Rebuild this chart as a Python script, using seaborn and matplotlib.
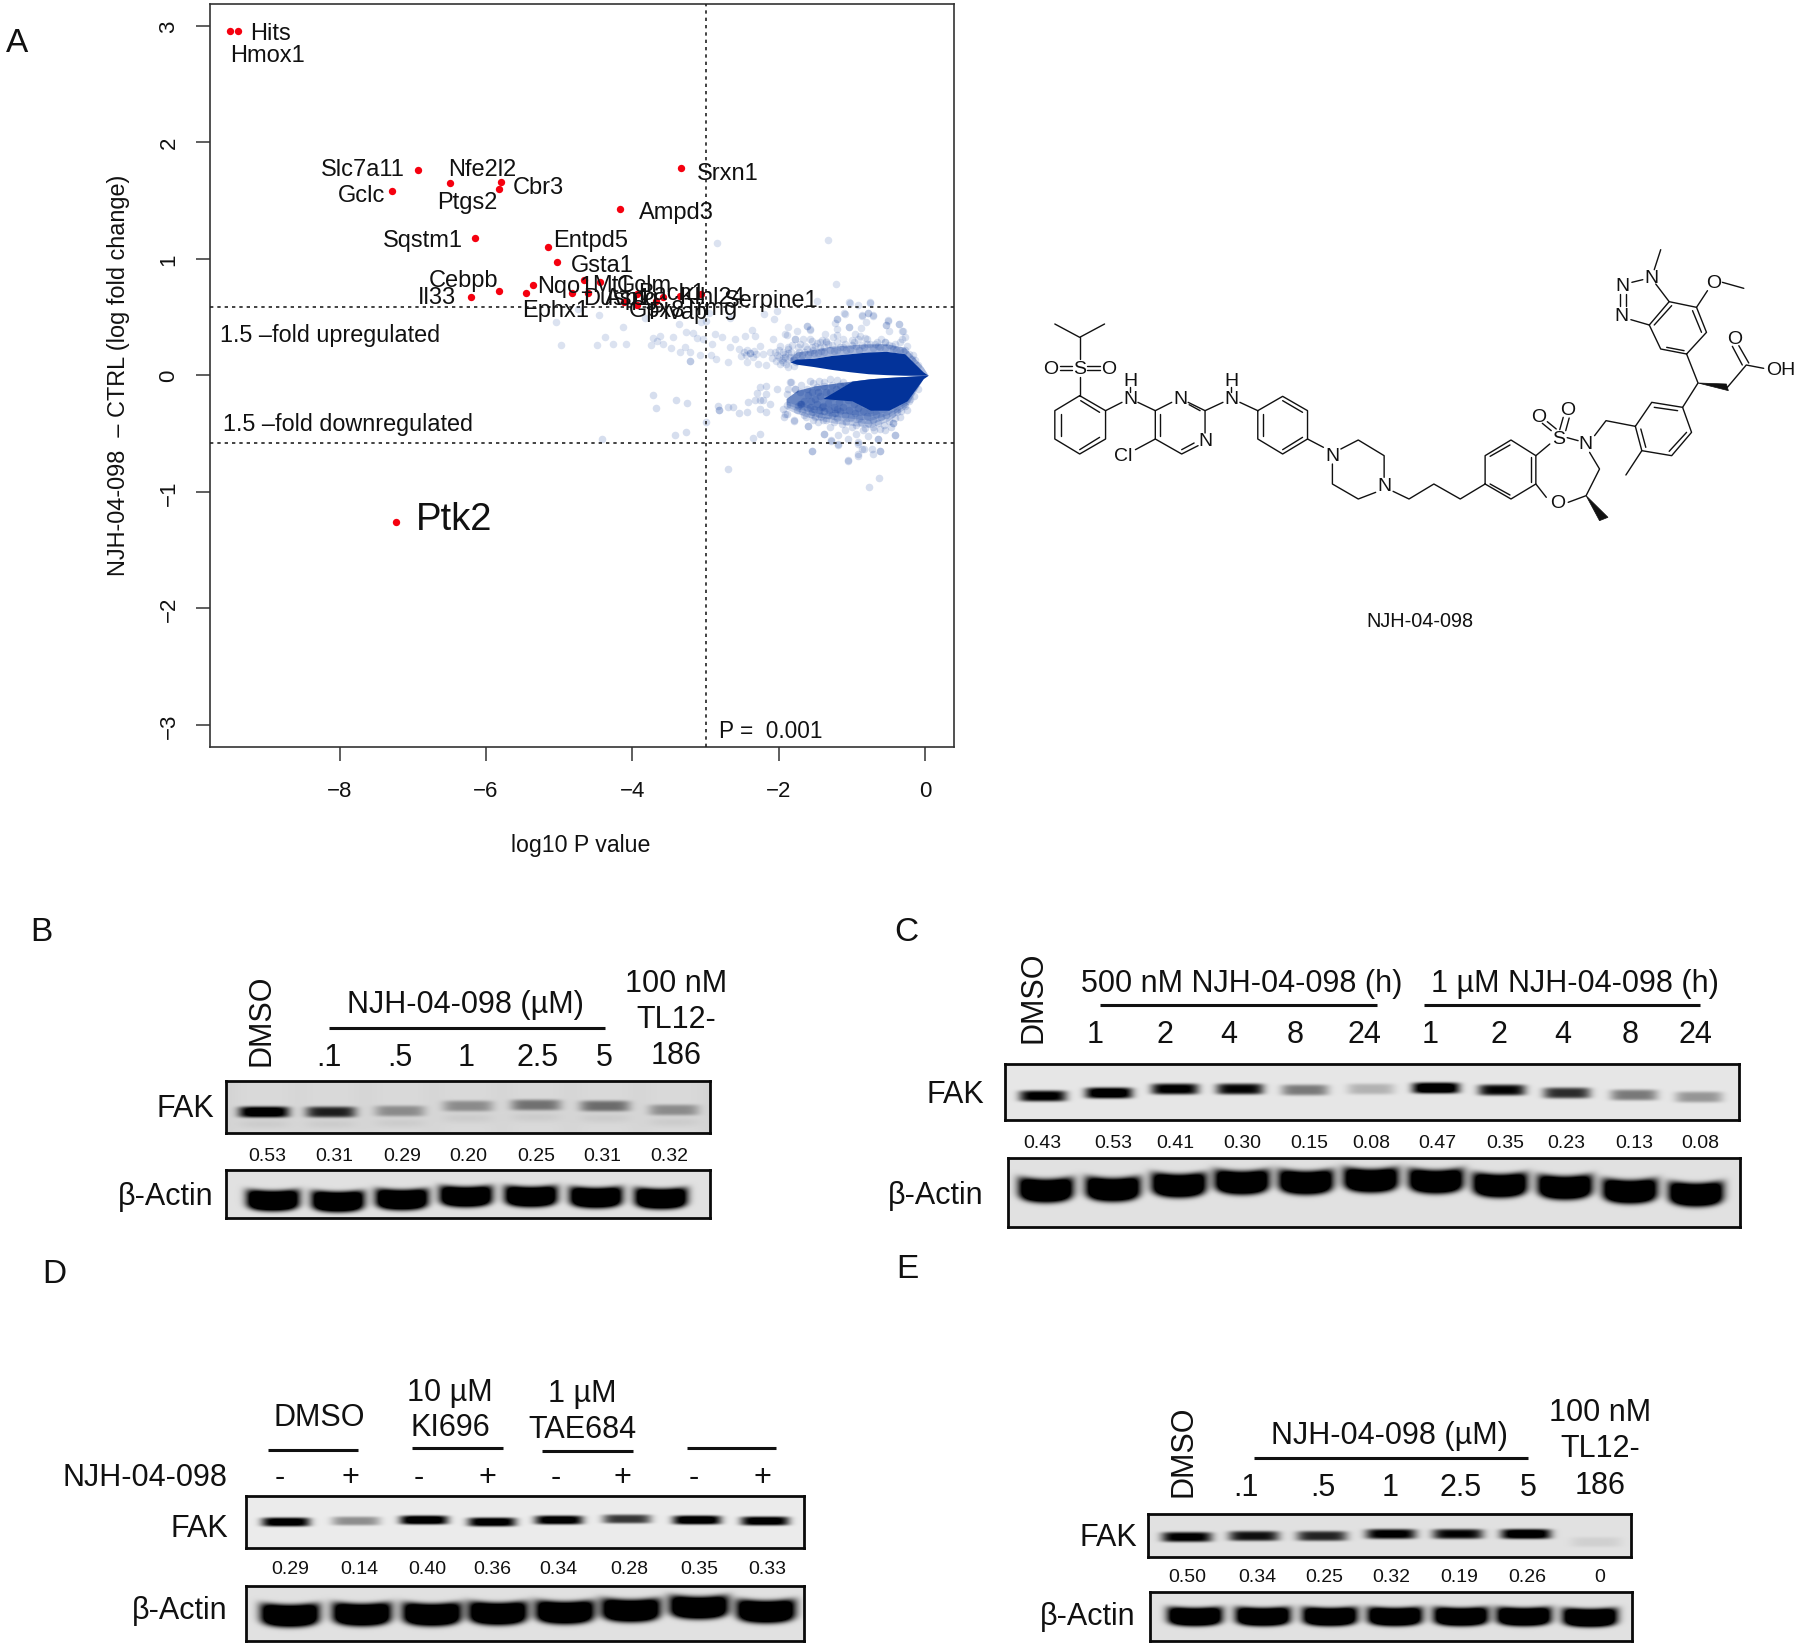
import numpy as np
import pandas as pd
import matplotlib
matplotlib.use("Agg")
import matplotlib.pyplot as plt
import seaborn as sns

sns.set_style("white")
plt.rcParams['font.family'] = ['Liberation Sans', 'DejaVu Sans']

W, H = 1800, 1649
BLUE = "#03339a"
INK = "#111111"

# --- panel A values (log10 P, log fold change)
hit_x = [-9.50, -9.39, -6.93, -6.49, -7.28, -5.79, -5.82, -3.33, -4.17, -6.15, -5.15, -5.03, -5.82, -6.21, -5.36,
         -5.45, -4.66, -4.44, -4.83, -4.61, -3.94, -4.12, -3.94, -3.68, -3.58, -3.07, -3.35, -7.23]
hit_y = [2.95, 2.95, 1.76, 1.65, 1.58, 1.66, 1.60, 1.78, 1.43, 1.18, 1.10, 0.97, 0.72, 0.67, 0.775,
         0.71, 0.82, 0.80, 0.71, 0.71, 0.70, 0.63, 0.60, 0.64, 0.675, 0.70, 0.68, -1.26]

upper_pts = [(-2.84,1.135),(-1.325,1.163),(-1.22,.783),(-1.485,.64),(-1.04,.626),(-.756,.626),(-2.03,.554),(-2.06,.483),
    (-2.2,.523),(-2.67,.49),(-2.95,.534),(-2.99,.468),(-3.06,.454),(-3.37,.44),(-3.83,.49),(-4.13,.417),(-4.46,.52),
    (-4.74,.569),(-5.05,.46),(-4.98,.26),(-4.37,.326),(-4.49,.263),(-4.26,.265),(-4.09,.265),(-3.72,.32),(-3.62,.34),
    (-3.74,.26),(-3.66,.297),(-3.58,.269),(-3.45,.332),(-3.47,.231),(-3.35,.197),(-3.27,.369),(-3.17,.363),(-3.12,.317),
    (-3.28,.24),(-3.21,.197),(-3.22,.125),(-3.22,.125),(-3.08,.177),(-3.04,.312),(-2.92,.269),(-2.87,.354),(-2.78,.326),
    (-2.93,.174),(-2.86,.14),(-2.70,.111),(-2.67,.24),(-2.6,.312),(-2.54,.226),(-2.46,.34),(-2.37,.392),(-2.33,.334),
    (-2.52,.163),(-2.44,.117),(-2.4,.191),(-2.4,.191),(-2.31,.183),(-2.26,.254),(-2.21,.183),(-2.28,.097),(-2.17,.088),
    (-2.08,.312),(-2.05,.197),(-1.92,.354),(-1.87,.24),(-1.92,.154),(-1.8,.083),(-1.78,.312),(-1.62,.42),(-1.57,.392),
    (-1.67,.312),(-1.55,.297),(-1.21,.483),(-1.21,.397),(-1.10,.526),(-1.04,.412),(-.87,.506),(-.78,.535),(-.72,.512),
    (-.505,.469),(-.53,.432),(-.36,.437),(-.31,.383),(-.28,.326),(-.35,.283),(-.89,.34),(-.8,.312),(-.98,.283),(-1.26,.326),
    (-1.44,.283),(-1.35,.297),(-1.12,.312),(-.665,.283),(-.55,.283),(-1.03,.624),(-.915,.607),(-.756,.624),(-1.11,.538),
    (-.87,.515),(-.78,.538),(-.71,.515),(-.81,.458),(-1.21,.48),(-1.23,.452),(-1.04,.415),(-.88,.406),(-.515,.472),
    (-.36,.443),(-.537,.429),(-.49,.38),(-.314,.38),(-.32,.315),(-.414,.272),(-.278,.215),(-.164,.172),(-1.87,.415),
    (-1.62,.423),(-1.57,.395),(-1.75,.378),(-1.89,.343),(-1.78,.309),(-1.575,.309),(-1.37,.358),(-1.21,.349),(-1.416,.3),
    (-1.35,.286),(-1.21,.286),(-1.44,.243),(-1.28,.258),(-1.006,.3),(-.915,.315),(-.824,.32),(-.96,.358),(-.69,.272),
    (-.55,.286),(-.87,.258),(-.756,.272),(-1.12,.243),(-1.03,.229),(-1.62,.229),(-1.735,.243),(-1.87,.229),(-1.92,.186),
    (-1.8,.129),(-1.94,.114),(-1.87,.07),(-1.53,.215),(-1.39,.2),(-1.21,.215),(-.437,.229),(-1.88,.19),(-1.85,.16),
    (-1.95,.15),(-1.75,.18),(-1.7,.14),(-1.66,.2),(-1.6,.17),(-1.5,.25),(-1.46,.19),(-1.3,.22),(-1.1,.27),(-.95,.25),
    (-.8,.27),(-.65,.25),(-.5,.26),(-.4,.22),(-.25,.25),(-.6,.31),(-1.98,.1),(-2.0,.16),
    (-2.47,.2),(-2.45,.17),(-2.43,.22),(-2.36,.16),(-2.34,.21),(-2.12,.2),(-2.1,.15),(-2.04,.12),(-2.02,.17),(-2.0,.22),
    (-1.98,.25),(-1.96,.13),(-1.94,.2),(-1.9,.1),(-1.86,.13),(-1.84,.2),(-1.82,.26),(-1.79,.16),(-1.76,.11),(-1.73,.2),
    (-1.71,.27),(-1.68,.17),(-1.64,.25),(-1.58,.2),(-1.55,.24),(-1.52,.19),(-1.48,.28),(-1.42,.21),(-1.38,.24),(-1.33,.27),
    (-1.25,.21),(-1.17,.24),(-1.08,.22),(-1.0,.26),(-.9,.22),(-.84,.24),(-.72,.23),(-.62,.24),(-.55,.23),(-.46,.25),(-.35,.22),
    (-.3,.2),(-.22,.18),(-.18,.14),(-.14,.13),(-.1,.09)]
lower_pts = [(-3.72,-.166),(-3.68,-.284),(-3.40,-.212),(-3.25,-.238),(-3.42,-.513),(-3.27,-.49),(-4.41,-.547),(-3,-.4),
    (-2.83,-.261),(-2.82,-.298),(-2.82,-.298),(-2.7,-.27),(-2.63,-.275),(-2.54,-.324),(-2.44,-.312),(-2.42,-.233),(-2.33,-.213),
    (-2.26,-.209),(-2.21,-.209),(-2.26,-.104),(-2.18,-.09),(-2.3,-.152),(-2.17,-.161),(-2.12,-.246),(-2.26,-.29),(-2.18,-.318),
    (-2.02,-.118),(-2.35,-.539),(-2.26,-.504),(-2.7,-.805),(-1.55,-.653),(-1.06,-.733),(-.63,-.882),(-.765,-.962),(-1.94,-.29),
    (-1.89,-.333),(-1.8,-.39),(-1.93,-.361),(-1.85,-.061),(-1.78,-.118),(-1.89,-.161),(-1.71,-.246),(-1.6,-.432),(-1.39,-.503),
    (-1.29,-.56),(-1.19,-.59),(-.915,-.69),(-.87,-.633),(-.71,-.676),(-.62,-.647),(-.915,-.576),(-.65,-.547),(-.415,-.513),
    (-.437,-.41),(-1.55,-.652),(-1.06,-.73),(-.915,-.68),(-.84,-.635),(-.915,-.587),(-.733,-.63),(-.62,-.652),(-.414,-.51),
    (-.64,-.544),(-1.39,-.5),(-1.29,-.558),(-1.19,-.6),(-1.19,-.515),(-1.6,-.435),(-.437,-.406),(-.3,-.243),(-.21,-.2),
    (-.39,-.315),(-1.87,-.114),(-1.78,-.12),(-1.83,-.057),(-1.89,-.257),(-1.7,-.243),(-1.7,-.243),(-1.92,-.33),(-1.8,-.386),
    (-1.53,-.07),(-1.39,-.057),(-1.3,-.03),(-1.71,-.143),(-1.6,-.17),(-1.51,-.2),(-1.48,-.1),(-1.3,-.143),(-1.166,-.086),
    (-1.55,-.315),(-1.416,-.272),(-1.325,-.343),(-1.21,-.286),(-1.14,-.415),(-1.0,-.443),(-.847,-.472),(-.71,-.443),(-.62,-.458),
    (-1.46,-.4),(-1.3,-.443),(-1.53,-.386),(-1.75,-.3),(-1.65,-.34),(-1.62,-.28),(-1.45,-.33),(-1.4,-.38),(-1.25,-.4),
    (-1.1,-.47),(-.95,-.5),(-.78,-.52),(-.55,-.47),(-.47,-.44),(-.35,-.36),(-.25,-.3),(-.15,-.18),(-.1,-.12),(-1.05,-.55),
    (-1.7,-.08),(-1.58,-.05),(-1.45,-.05),(-1.2,-.04),
    (-1.74,-.26),(-1.68,-.31),(-1.66,-.22),(-1.63,-.36),(-1.58,-.27),(-1.56,-.33),(-1.56,-.22),(-1.52,-.29),(-1.5,-.36),(-1.48,-.25),
    (-1.45,-.3),(-1.44,-.18),(-1.42,-.35),(-1.4,-.26),(-1.38,-.31),(-1.36,-.14),(-1.35,-.38),(-1.33,-.24),(-1.31,-.3),(-1.28,-.34),
    (-1.27,-.19),(-1.25,-.27),(-1.23,-.32),(-1.22,-.12),(-1.2,-.37),(-1.18,-.23),(-1.16,-.31),(-1.14,-.16),(-1.12,-.27),(-1.1,-.34),
    (-1.08,-.4),(-1.06,-.21),(-1.04,-.3),(-1.02,-.36),(-1.0,-.14),(-.98,-.25),(-.96,-.32),(-.94,-.43),(-.92,-.28),(-.9,-.37),
    (-.88,-.4),(-.85,-.31),(-.83,-.45),(-.8,-.35),(-.78,-.41),(-.75,-.3),(-.72,-.38),(-.7,-.47),(-.67,-.33),(-.64,-.41),
    (-.6,-.36),(-.57,-.43),(-.53,-.34),(-.5,-.39),(-.45,-.33),(-.42,-.37),(-.38,-.29),(-.33,-.31),(-.28,-.26),(-.22,-.22),
    (-1.62,-.12),(-1.55,-.14),(-1.46,-.14),(-1.38,-.09),(-1.27,-.08),(-1.12,-.06),(-1.05,-.09)]

# dense part of the cloud: envelopes
top_x = [-1.85, -1.76, -1.53, -1.28, -1.03, -0.78, -0.53, -0.28, -0.03, 0.04]
top_outer = [0.115, 0.14, 0.145, 0.17, 0.185, 0.20, 0.205, 0.185, 0.03, 0.0]
top_inner = [0.115, 0.095, 0.075, 0.05, 0.03, 0.013, 0.005, 0.0, 0.0, 0.0]
halo_outer = [0.15, 0.2, 0.22, 0.25, 0.26, 0.27, 0.27, 0.24, 0.07, 0.0]
low_x = [-1.4, -1.0, -0.75, -0.5, -0.25, -0.03, 0.04]
low_inner = [-0.2, -0.05, -0.03, -0.018, -0.01, -0.002, 0.0]
low_outer = [-0.2, -0.22, -0.3, -0.3, -0.22, -0.03, 0.0]
haze_x = [-1.9, -1.75, -1.5, -1.25, -1.0, -0.75, -0.5, -0.25, -0.03]
haze_inner = [-0.2, -0.13, -0.09, -0.07, -0.05, -0.03, -0.02, -0.01, 0.0]
haze_outer = [-0.29, -0.33, -0.38, -0.41, -0.43, -0.45, -0.39, -0.27, -0.03]

# gene name, label centre in figure pixels
gene_names = ["Hits", "Hmox1", "Slc7a11", "Nfe2l2", "Cbr3", "Gclc", "Ptgs2", "Srxn1", "Ampd3", "Sqstm1", "Entpd5", "Gsta1",
              "Cebpb", "Il33", "Nqo1", "Mt1", "Gclm", "Ephx1", "Dusp1", "Aspg", "Bach1", "Klhl24", "Gpx8", "Plvap", "Trmg", "Serpine1"]
gene_px = [271, 267, 363, 482, 538, 362, 467, 728, 676, 423, 591, 602, 463, 437, 565, 612, 644, 556, 617, 632, 672, 712, 657, 678, 711, 771]
gene_py = [32, 54, 168, 168, 185, 193, 201, 171, 211, 239, 239, 264, 279, 296, 285, 283, 283, 309, 297, 297, 292, 295, 308, 311, 307, 298]

# --- blots: ratio labels and how dark each band is
b_ratio = ["0.53", "0.31", "0.29", "0.20", "0.25", "0.31", "0.32"]
b_fak_dark = [1.0, 0.72, 0.30, 0.30, 0.40, 0.42, 0.30]
c_ratio = ["0.43", "0.53", "0.41", "0.30", "0.15", "0.08", "0.47", "0.35", "0.23", "0.13", "0.08"]
c_fak_dark = [0.85, 0.95, 0.85, 0.8, 0.38, 0.18, 1.0, 0.8, 0.65, 0.38, 0.28]
d_ratio = ["0.29", "0.14", "0.40", "0.36", "0.34", "0.28", "0.35", "0.33"]
d_fak_dark = [0.9, 0.32, 0.95, 0.9, 0.9, 0.62, 0.95, 0.9]
e_ratio = ["0.50", "0.34", "0.25", "0.32", "0.19", "0.26", "0"]
e_fak_dark = [0.85, 0.75, 0.68, 0.85, 0.8, 0.95, 0.06]


fig = plt.figure(figsize=(W / 100, H / 100), dpi=100, facecolor="white")


def px_axes(x0, y0, x1, y1, **kw):
    return fig.add_axes([x0 / W, 1 - y1 / H, (x1 - x0) / W, (y1 - y0) / H], **kw)


# --- panel A
ax = px_axes(210, 4.5, 954, 748)
up = pd.DataFrame(upper_pts, columns=["p", "lfc"])
lo = pd.DataFrame(lower_pts, columns=["p", "lfc"])
# nested copies of the envelope give the soft edge of the haze
for f in [1.0, 0.93, 0.86, 0.78]:
    ax.fill_between(haze_x, haze_inner, np.array(haze_outer) * f, color=BLUE, alpha=0.2, lw=0)
ax.fill_between(top_x, top_outer, halo_outer, color=BLUE, alpha=0.35, lw=0)
sns.scatterplot(data=up, x="p", y="lfc", ax=ax, s=30, color=BLUE, alpha=0.14, linewidth=0)
sns.scatterplot(data=lo, x="p", y="lfc", ax=ax, s=30, color=BLUE, alpha=0.16, linewidth=0)
ax.fill_between(top_x, top_inner, top_outer, color=BLUE, lw=0)
ax.fill_between(low_x, low_inner, low_outer, color=BLUE, lw=0)
sns.scatterplot(x=hit_x, y=hit_y, ax=ax, s=28, color="#f5000f", linewidth=0, zorder=4)
for yy in [0.585, -0.585]:
    ax.axhline(yy, color="#222222", lw=1.2, ls=(0, (2, 2.4)), zorder=3)
ax.axvline(-3, color="#222222", lw=1.2, ls=(0, (2, 2.4)), zorder=3)
ax.set_xlim(-9.77, 0.392)
ax.set_ylim(-3.19, 3.19)
ax.set_xticks([-8, -6, -4, -2, 0])
ax.set_yticks([-3, -2, -1, 0, 1, 2, 3])
ax.set_xlabel("")
ax.set_ylabel("")
ax.tick_params(length=10, width=1.1, color="#333333", left=True, bottom=True, labelsize=16, labelcolor=INK)
ax.tick_params(axis="x", pad=13.5)
ax.tick_params(axis="y", pad=12)
for lab in ax.get_yticklabels():
    lab.set_rotation(90)
    lab.set_va("center")
for s in ax.spines.values():
    s.set_color("#333333")
    s.set_linewidth(1.2)
    s.set_visible(True)


# --- blot drawing
def blot_matrix(box, xs, ys, dark, bw, bh, curve, bg, ghost):
    x0, y0, x1, y1 = box
    gx, gy = np.meshgrid(np.arange(x0, x1) + 0.5, np.arange(y0, y1) + 0.5)
    m = np.full(gx.shape, float(bg))
    for xc, yc, d in zip(xs, ys, dark):
        dx = (gx - xc) / (bw / 2)
        yb = yc - curve * dx ** 2
        prof = np.exp(-np.abs(dx) ** 5) * np.exp(-np.abs((gy - yb) / bh) ** 4)
        m -= d * prof * bg * 1.25
        # faint smear under the band and pale lane round it
        if ghost:
            m -= ghost * np.exp(-np.abs(dx) ** 4) * np.exp(-((gy - yb - 12) / 5) ** 2)
            m += 0.03 * np.exp(-np.abs(dx / 1.3) ** 4)
    return np.clip(m, 0, 1)


def draw_blot(box, xs, ys, dark, bw, bh, curve=0.0, bg=0.9, ghost=0.0):
    a = px_axes(*box)
    sns.heatmap(blot_matrix(box, xs, ys, dark, bw, bh, curve, bg, ghost), ax=a, cmap="gray", vmin=0, vmax=1,
                cbar=False, xticklabels=False, yticklabels=False)
    for s in a.spines.values():
        s.set_visible(True)
        s.set_color("#0a0a0a")
        s.set_linewidth(2.0)
    return a


# panel B
draw_blot((226, 1082, 710, 1134), [264, 331, 400, 468, 536, 605, 674], [1113, 1113, 1112, 1107, 1106, 1107, 1111],
          b_fak_dark, 50, 5.5, 0, 0.82, 0.05)
draw_blot((226, 1171, 710, 1219), [273, 338, 402, 466, 531, 596, 661], [1202, 1203, 1201, 1198, 1198, 1199, 1200],
          [1.4] * 7, 52, 10, 2.5, 0.88)
# panel C
draw_blot((1005, 1065, 1739, 1121), [1043, 1109, 1175, 1240, 1305, 1371, 1436, 1502, 1567, 1634, 1699],
          [1097, 1094, 1090, 1090, 1091, 1090, 1089, 1091, 1094, 1096, 1098], c_fak_dark, 47, 5.5, 0, 0.9)
draw_blot((1008, 1159, 1740, 1228), [1046, 1113, 1179, 1242, 1306, 1371, 1436, 1500, 1565, 1630, 1696],
          [1192, 1191, 1187, 1184, 1184, 1182, 1183, 1187, 1189, 1193, 1196], [1.4] * 11, 54, 11.5, 3.5, 0.88)
# panel D
draw_blot((246, 1497, 804, 1549), [286, 356, 424, 492, 559, 627, 697, 765], [1523, 1522, 1521, 1523, 1521, 1520, 1521, 1522],
          d_fak_dark, 48, 4.5, 0, 0.92)
draw_blot((246, 1587, 804, 1642), [290, 362, 432, 498, 565, 631, 699, 766], [1617, 1616, 1616, 1615, 1614, 1612, 1609, 1613],
          [1.4] * 8, 58, 11, 3, 0.88)
# panel E
draw_blot((1148, 1515, 1631, 1558), [1187, 1254, 1322, 1391, 1458, 1526, 1596], [1538, 1537, 1537, 1535, 1535, 1535, 1543],
          e_fak_dark, 50, 5, 0, 0.88)
draw_blot((1150, 1593, 1632, 1642), [1195, 1263, 1330, 1395, 1461, 1524, 1590], [1618, 1618, 1618, 1618, 1618, 1618, 1619],
          [1.4] * 7, 54, 9, 2, 0.88)

# --- structure, drawn in the coordinates of a 1568x1200 box over the free area
mol = px_axes(1020, 240, 1800, 640)
mol.set_xlim(0, 1568)
mol.set_ylim(1200, 0)
mol.axis("off")
bond_paths = [
    [(70, 255), (120, 295), (170, 255)], [(120, 295), (120, 360)], [(120, 415), (120, 470)],
    [(80, 382), (105, 382)], [(80, 394), (105, 394)], [(135, 382), (160, 382)], [(135, 394), (160, 394)],
    [(120, 470), (172, 515), (172, 600), (120, 645), (70, 600), (70, 515), (120, 470)],
    [(82, 525), (82, 590)], [(120, 632), (160, 595)], [(122, 485), (160, 520)],
    [(172, 515), (205, 490)], [(222, 445), (222, 458)], [(237, 490), (272, 515)],
    [(305, 490), (272, 515), (272, 600), (325, 645), (358, 620)], [(338, 490), (372, 515), (372, 582)],
    [(282, 525), (282, 590)], [(340, 497), (362, 515)], [(325, 632), (350, 612)], [(272, 600), (232, 632)],
    [(372, 515), (408, 490)], [(425, 445), (425, 458)], [(442, 490), (478, 515)],
    [(478, 515), (528, 472), (578, 515), (578, 600), (528, 645), (478, 600), (478, 515)],
    [(488, 525), (488, 590)], [(528, 485), (568, 520)], [(528, 632), (568, 595)],
    [(578, 600), (610, 625)], [(645, 630), (680, 603), (732, 650), (732, 715)], [(715, 760), (680, 780), (628, 735), (628, 675)],
    [(750, 757), (782, 780), (832, 735), (885, 780), (935, 735)],
    [(935, 735), (935, 650), (987, 603), (1037, 650), (1037, 735), (987, 780), (935, 735)],
    [(945, 652), (985, 618)], [(1027, 655), (1027, 730)], [(945, 735), (985, 768)],
    [(1037, 650), (1065, 615)], [(1068, 575), (1050, 553)], [(1078, 570), (1060, 548)], [(1085, 572), (1092, 535)], [(1097, 575), (1104, 537)],
    [(1100, 596), (1122, 605)], [(1145, 640), (1165, 690), (1138, 770), (1102, 790)], [(1058, 775), (1037, 735)],
    [(1155, 590), (1178, 545), (1237, 562)],
    [(1237, 562), (1270, 490), (1332, 505), (1350, 580), (1310, 650), (1250, 635), (1237, 562)],
    [(1275, 505), (1322, 515)], [(1340, 580), (1305, 637)], [(1248, 570), (1258, 625)], [(1250, 635), (1218, 708)],
    [(1332, 505), (1363, 432), (1340, 345)], [(1422, 445), (1460, 378), (1495, 388)],
    [(1452, 378), (1432, 322)], [(1465, 372), (1445, 320)],
    [(1340, 345), (1288, 330), (1265, 258), (1305, 188), (1360, 205), (1380, 280), (1340, 345)],
    [(1300, 325), (1335, 335)], [(1275, 258), (1310, 200)], [(1352, 215), (1370, 280)],
    [(1265, 258), (1228, 242)], [(1207, 165), (1207, 200)], [(1218, 165), (1218, 200)], [(1230, 130), (1252, 122)],
    [(1278, 135), (1305, 188)], [(1275, 92), (1288, 32)], [(1360, 205), (1382, 155)], [(1412, 130), (1455, 148)],
]
for path in bond_paths:
    xs, ys = zip(*path)
    mol.plot(xs, ys, color="#111111", lw=1.0, solid_capstyle="round")
wedge_tris = [[(1138, 770), (1165, 845), (1182, 835)], [(1363, 432), (1420, 435), (1424, 455)]]
for tri in wedge_tris:
    mol.fill(*zip(*tri), color="#111111", lw=0.5)
atom_text = ["O", "S", "O", "H", "N", "N", "N", "Cl", "H", "N", "N", "N", "O", "O", "S", "N", "O", "O", "OH", "N", "N", "N", "O"]
atom_x = [62, 120, 178, 222, 222, 322, 372, 207, 425, 425, 628, 732, 1042, 1100, 1082, 1137, 1080, 1437, 1530, 1210, 1212, 1270, 1395]
atom_y = [388, 388, 388, 425, 478, 478, 605, 650, 425, 478, 650, 740, 533, 513, 598, 615, 790, 298, 392, 230, 140, 115, 130]
for s, xx, yy in zip(atom_text, atom_x, atom_y):
    mol.text(xx, yy, s, fontsize=14, ha="center", va="center", color="#111111")

# --- every label on one full size layer in figure pixels
top = px_axes(0, 0, W, H, zorder=10)
top.set_xlim(0, W)
top.set_ylim(H, 0)
top.axis("off")
top.patch.set_alpha(0)


def t(x, y, s, size=22, ha="center", rot=0):
    # va=center sits a little high with this font
    yy = y + 2.5 if rot == 0 else y
    top.text(x, yy, s, fontsize=size, ha=ha, va="center", rotation=rot, color=INK)


def rule(x0, x1, y):
    top.plot([x0, x1], [y, y], color="#111111", lw=2.2, solid_capstyle="butt")


for name, xx, yy in zip(gene_names, gene_px, gene_py):
    t(xx, yy, name, 17)
t(454, 518, "Ptk2", 27.5)
t(220, 333, "1.5 –fold upregulated", 16.8, "left")
t(223, 422, "1.5 –fold downregulated", 16.8, "left")
t(719, 729, "P =  0.001", 16.3, "left")
t(581, 843, "log10 P value", 16.7)
t(118, 375, "NJH-04-098  – CTRL (log fold change)", 16.9, rot=90)
t(1420, 619, "NJH-04-098", 14.3)

for letter, xx, yy in [("A", 17, 41), ("B", 41, 930), ("C", 906, 930), ("D", 54, 1272), ("E", 907, 1267)]:
    t(xx, yy, letter, 24)

# B
t(261, 1020, "DMSO", rot=90)
t(465, 1003, "NJH-04-098 (µM)")
rule(329, 605, 1029)
for s, xx in zip([".1", ".5", "1", "2.5", "5"], [329, 400, 466, 538, 604]):
    t(xx, 1056, s)
for s, yy in zip(["100 nM", "TL12-", "186"], [982, 1017, 1054]):
    t(676, yy, s)
t(214, 1107, "FAK", ha="right")
t(213, 1195, "β-Actin", ha="right")
for s, xx in zip(b_ratio, [267, 334, 402, 468, 536, 602, 669]):
    t(xx, 1154, s, 14)

# C
t(1033, 997, "DMSO", rot=90)
t(1242, 982, "500 nM NJH-04-098 (h)")
t(1575, 982, "1 µM NJH-04-098 (h)")
rule(1100, 1377, 1006)
rule(1424, 1700, 1006)
for s, xx in zip(["1", "2", "4", "8", "24", "1", "2", "4", "8", "24"], [1095, 1165, 1229, 1295, 1364, 1430, 1499, 1563, 1630, 1695]):
    t(xx, 1033, s)
t(984, 1093, "FAK", ha="right")
t(984, 1194, "β-Actin", ha="right")
for s, xx in zip(c_ratio, [1042, 1113, 1175, 1242, 1309, 1371, 1437, 1505, 1566, 1634, 1700]):
    t(xx, 1141, s, 14)

# D
t(319, 1416, "DMSO")
t(450, 1391, "10 µM")
t(450, 1426, "KI696")
t(582, 1392, "1 µM")
t(582, 1428, "TAE684")
rule(268, 358, 1451)
rule(412, 503, 1449)
rule(542, 633, 1452)
rule(687, 776, 1449)
t(227, 1476, "NJH-04-098", ha="right")
for s, xx in zip(["-", "+"] * 4, [280, 350, 419, 487, 556, 622, 694, 762]):
    t(xx, 1476, s)
t(228, 1527, "FAK", ha="right")
t(228, 1609, "β-Actin", ha="right")
for s, xx in zip(d_ratio, [290, 359, 427, 492, 558, 629, 699, 767]):
    t(xx, 1567, s, 14)

# E
t(1184, 1451, "DMSO", rot=90)
t(1389, 1434, "NJH-04-098 (µM)")
rule(1254, 1528, 1459)
for s, xx in zip([".1", ".5", "1", "2.5", "5"], [1246, 1323, 1390, 1461, 1528]):
    t(xx, 1486, s)
for s, yy in zip(["100 nM", "TL12-", "186"], [1411, 1447, 1484]):
    t(1600, yy, s)
t(1137, 1536, "FAK", ha="right")
t(1136, 1615, "β-Actin", ha="right")
for s, xx in zip(e_ratio, [1187, 1257, 1324, 1391, 1459, 1527, 1600]):
    t(xx, 1575, s, 14)

fig.savefig("out.png", dpi=100)
